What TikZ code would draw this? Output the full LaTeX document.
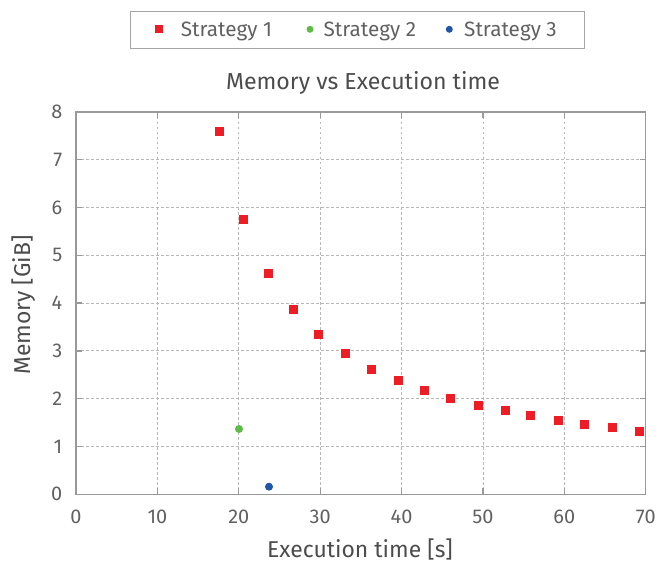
\documentclass[tikz,border=0pt]{standalone}
\usepackage{fontspec}
\setmainfont{Fira Sans}
\begin{document}
\begin{tikzpicture}[x=1bp,y=-1bp,
  lbl/.style={inner sep=0pt, text=black!70},
  ticklbl/.style={inner sep=0pt, text=black!62, font=\fontsize{20}{20}\selectfont},
  gridline/.style={draw=black!28, line width=0.9bp, dash pattern=on 2.5bp off 2.5bp},
  frame/.style={draw=black!40, line width=1.3bp},
  sq/.style={fill=s1, draw=none, minimum size=9bp, inner sep=0pt, rectangle},
  dotg/.style={fill=s2, draw=none, minimum size=8bp, inner sep=0pt, circle},
  dotb/.style={fill=s3, draw=none, minimum size=8bp, inner sep=0pt, circle},
  legtext/.style={inner sep=0pt, anchor=base west, text=black!62, font=\fontsize{20.8}{20.8}\selectfont}]
\definecolor{s1}{HTML}{EE1C25}
\definecolor{s2}{HTML}{5DBB46}
\definecolor{s3}{HTML}{1F56A5}
\useasboundingbox (0,0) rectangle (659,562);
\def\xa{76}\def\xs{8.139}\def\yb{494.3}\def\ys{47.79}
% grid
\foreach \i in {1,...,6}{
  \coordinate (gt\i) at ({\xa+\i*10*\xs},112);
  \coordinate (gb\i) at ({\xa+\i*10*\xs},\yb);
  \draw[gridline] (gt\i) -- (gb\i);
}
\foreach \j in {1,...,7}{
  \coordinate (gl\j) at (\xa,{\yb-\j*\ys});
  \coordinate (gr\j) at (645.7,{\yb-\j*\ys});
  \draw[gridline] (gl\j) -- (gr\j);
}
% frame
\coordinate (ll) at (\xa,\yb);
\coordinate (ur) at (645.7,112);
\draw[frame] (ll) rectangle (ur);
% ticks
\foreach \i in {1,...,6}{
  \draw[frame] (gb\i) -- ++(0,-6);
  \draw[frame] (gt\i) -- ++(0,6);
}
\foreach \j in {1,...,7}{
  \draw[frame] (gl\j) -- ++(6,0);
  \draw[frame] (gr\j) -- ++(-6,0);
}
% tick labels
\foreach \i in {0,...,7}{
  \node[ticklbl, anchor=base] (xl\i) at ({\xa+\i*10*\xs},523.3) {\the\numexpr\i*10\relax};
}
\foreach \j in {0,...,8}{
  \node[ticklbl, anchor=east] (yl\j) at (62.5,{\yb-\j*\ys}) {\j};
}
% axis labels and title
\node[lbl, anchor=base, font=\fontsize{23}{23}\selectfont] (xlab) at (360,557.3) {Execution time [s]};
\node[lbl, rotate=90, font=\fontsize{23}{23}\selectfont] (ylab) at (23.5,305) {Memory [GiB]};
\node[lbl, anchor=base, font=\fontsize{23.2}{23.2}\selectfont] (title) at (363,89.3) {Memory vs Execution time};
% data strategy 1
\foreach \px/\py [count=\k] in {219.3/131.3, 243.3/220, 268.3/273.3, 293.3/309.3, 318.3/334.3, 345.3/353.3, 371.3/369.3, 398.3/380.3, 424.3/390.3, 450.3/398.3, 478.3/405.3, 505.3/410.3, 530.3/415.3, 558.3/420.3, 584.3/424.3, 612.3/427.3, 639.3/431.3}{
  \node[sq] (p\k) at (\px,\py) {};
}
\node[dotg] (q1) at (239,429) {};
\node[dotb] (r1) at (269,486.7) {};
% legend
\node[draw=black!35, line width=1bp, minimum width=453.7bp, minimum height=37bp, inner sep=0pt, anchor=north west] (legend) at (130.3,10.7) {};
\node[sq, minimum size=8bp] (l1) at (159.3,29.3) {};
\node[legtext] (t1) at (180.7,36.3) {Strategy 1};
\node[dotg, minimum size=7bp] (l2) at (310,29.3) {};
\node[legtext] (t2) at (323.3,36.3) {Strategy 2};
\node[dotb, minimum size=7bp] (l3) at (449.3,29.3) {};
\node[legtext] (t3) at (464,36.3) {Strategy 3};
\end{tikzpicture}
\end{document}
